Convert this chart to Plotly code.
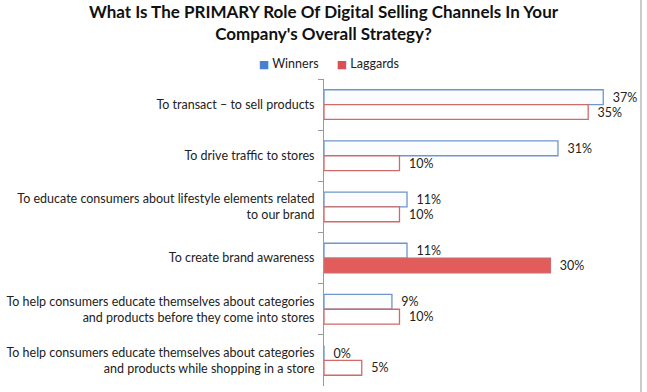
import plotly.graph_objects as go

categories = [
    "To transact – to sell products",
    "To drive traffic to stores",
    "To educate consumers about lifestyle elements related<br>to our brand",
    "To create brand awareness",
    "To help consumers educate themselves about categories<br>and products before they come into stores",
    "To help consumers educate themselves about categories<br>and products while shopping in a store",
]
winners = [37, 31, 11, 11, 9, 0]
laggards = [35, 10, 10, 30, 10, 5]
series_names = ["Winners", "Laggards"]
highlight_category = "To create brand awareness"
title_text = "What Is The PRIMARY Role Of Digital Selling Channels In Your<br>Company's Overall Strategy?"

FONT = "Lato, 'Open Sans', sans-serif"
PAD = "\u00a0\u00a0"

lag_fill = ["#e25c5c" if c == highlight_category else "white" for c in categories]

fig = go.Figure()
fig.add_trace(go.Bar(
    y=categories, x=winners, orientation="h", name=series_names[0],
    marker=dict(color="#fbfcfe", line=dict(color="#6f95cc", width=1.3)),
    text=[f"{PAD}{v}%" for v in winners], textposition="outside", constraintext="none",
    textfont=dict(family=FONT, size=12.5, color="#222"),
    cliponaxis=False, showlegend=False,
))
fig.add_trace(go.Bar(
    y=categories, x=laggards, orientation="h", name=series_names[1],
    marker=dict(color=lag_fill, line=dict(color="#d06a68", width=1.3)),
    text=[f"{PAD}{v}%" for v in laggards], textposition="outside", constraintext="none",
    textfont=dict(family=FONT, size=12.5, color="#222"),
    cliponaxis=False, showlegend=False,
))
# legend entries (square drawn inline so it sits close to the label, as in the original)
fig.add_trace(go.Scatter(y=[None], x=[None], mode="markers", legend="legend",
                         name="<span style='color:#4a7ed0;font-family:DejaVu Sans;font-size:11px'>■</span> " + series_names[0],
                         marker=dict(symbol="square", size=0, color="rgba(0,0,0,0)",
                                     line=dict(width=0))))
fig.add_trace(go.Scatter(y=[None], x=[None], mode="markers", legend="legend2",
                         name="<span style='color:#dc4f4f;font-family:DejaVu Sans;font-size:11px'>■</span> " + series_names[1],
                         marker=dict(symbol="square", size=0, color="rgba(0,0,0,0)",
                                     line=dict(width=0))))

legend_common = dict(orientation="h", xanchor="left", y=1.05, yanchor="middle",
                     font=dict(family=FONT, size=12.5, color="#222"),
                     itemwidth=30, bgcolor="rgba(0,0,0,0)")

fig.update_layout(
    width=647, height=392,
    margin=dict(l=320, r=6, t=79, b=6),
    paper_bgcolor="white", plot_bgcolor="white",
    barmode="group", bargap=0.42, bargroupgap=0,
    font=dict(family=FONT, size=12.5, color="#222"),
    title=dict(text=title_text, x=0.5, xanchor="center", y=0.955, yanchor="top",
               font=dict(family=FONT, size=17, color="#111", weight="bold")),
    legend=dict(x=-0.332, **legend_common),
    legend2=dict(x=-0.086, **legend_common),
    xaxis=dict(range=[0, 42], showgrid=False, showticklabels=False, zeroline=False,
               showline=False, ticks=""),
    yaxis=dict(autorange="reversed", showline=True, linecolor="#999", linewidth=1,
               ticks="outside", ticklen=5, tickcolor="#999", tickson="boundaries",
               showgrid=False, ticklabelstandoff=6,
               tickfont=dict(family=FONT, size=12.5, color="#222")),
    shapes=[dict(type="line", xref="paper", yref="paper", x0=1.0, x1=1.0,
                 y0=-0.02, y1=1.3, line=dict(color="#cccccc", width=2))],
)

fig.write_html("out.html")
